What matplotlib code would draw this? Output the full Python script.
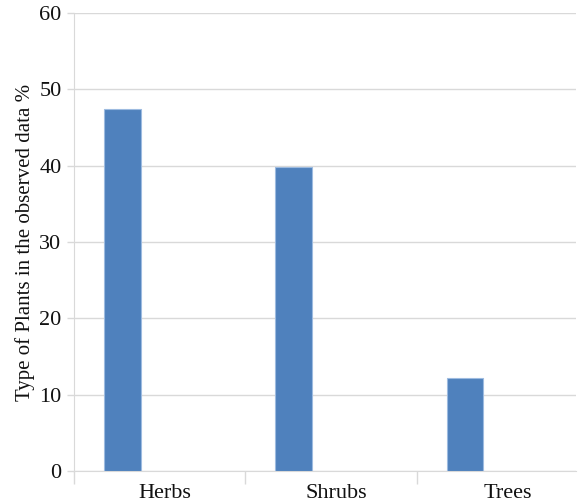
import matplotlib
matplotlib.use("Agg")
import matplotlib.pyplot as plt
import numpy as np

categories = ["Herbs", "Shrubs", "Trees"]
values = [47.4, 39.8, 12.2]
yticks = [0, 10, 20, 30, 40, 50, 60]

plt.rcParams['font.family'] = ['Liberation Serif', 'DejaVu Serif']

fig = plt.figure(figsize=(5.78, 5.04), dpi=100)
ax = fig.add_axes([74/578, 33/504, 502/578, 458/504])

x = np.arange(len(categories))
ax.bar(x - 0.218, values, width=0.215, color='#4F81BD',
       edgecolor='#9DBBE0', linewidth=0.8, zorder=3)

ax.set_xlim(-0.5, 2.43)
ax.set_ylim(0, 60)
ax.set_yticks(yticks)
ax.yaxis.grid(True, color='#D9D9D9', linewidth=1, zorder=0)

# category boundaries as ticks, names in between
ax.set_xticks([-0.5, 0.5, 1.5])
ax.set_xticklabels([])
ax.set_xticks(x + 0.03, minor=True)
ax.set_xticklabels(categories, minor=True)
ax.tick_params(axis='x', which='major', length=9, color='#D9D9D9', width=1)
ax.tick_params(axis='x', which='minor', length=0, pad=9, labelsize=16,
               labelcolor='#111111')
ax.tick_params(axis='y', length=5, color='#D9D9D9', width=1, labelsize=16,
               labelcolor='#111111', pad=4)

for s in ['top', 'right']:
    ax.spines[s].set_visible(False)
for s in ['left', 'bottom']:
    ax.spines[s].set_color('#D9D9D9')

ax.set_ylabel('Type of Plants in the observed data %', fontsize=15, color='#111111')
ax.yaxis.set_label_coords(-0.078, 0.5)

plt.savefig('out.png', dpi=100)
